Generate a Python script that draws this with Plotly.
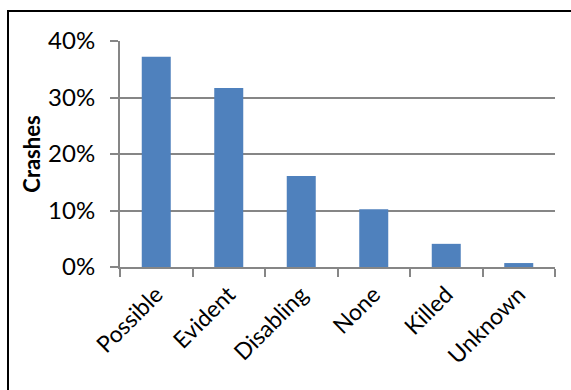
import plotly.graph_objects as go

categories = ["Possible", "Evident", "Disabling", "None", "Killed", "Unknown"]
values = [0.372, 0.317, 0.161, 0.102, 0.041, 0.007]
y_ticks = [0, 0.1, 0.2, 0.3, 0.4]
y_ticklabels = ["0%", "10%", "20%", "30%", "40%"]

W, H = 571, 390
L, R, T, B = 120, 16, 41, 123
pw, ph = W - L - R, H - T - B

def px(x):
    return (x - L) / pw

def py(y):
    return (H - B - y) / ph

fig = go.Figure(go.Bar(x=categories, y=values, marker=dict(color="#4F81BD", line=dict(width=0))))

font = "Lato, 'Open Sans', sans-serif"
fig.update_layout(
    width=W, height=H,
    margin=dict(l=L, r=R, t=T, b=B),
    plot_bgcolor="white", paper_bgcolor="white",
    bargap=0.6,
    showlegend=False,
    font=dict(family=font, color="black"),
    xaxis=dict(
        type="category", tickson="boundaries", ticks="outside", ticklen=8,
        tickcolor="#868686", tickwidth=2, showline=True, linecolor="#868686", linewidth=2,
        tickangle=-45, tickfont=dict(size=23, family=font), showgrid=False,
        ticklabelstandoff=3,
    ),
    yaxis=dict(
        range=[0, 0.4], tickvals=y_ticks, ticktext=y_ticklabels,
        ticks="outside", ticklen=8, tickcolor="#868686", tickwidth=2,
        showline=True, linecolor="#868686", linewidth=2,
        showgrid=True, gridcolor="#868686", gridwidth=1.5,
        tickfont=dict(size=24, family=font), zeroline=False,
        ticklabelstandoff=10,
        title=dict(text="<b>Crashes</b>", font=dict(size=22, family=font), standoff=1),
    ),
    shapes=[dict(type="rect", xref="paper", yref="paper",
                 x0=px(8), x1=px(580), y0=py(400), y1=py(11),
                 line=dict(color="black", width=2), layer="below")],
)

fig.write_html("out.html")
